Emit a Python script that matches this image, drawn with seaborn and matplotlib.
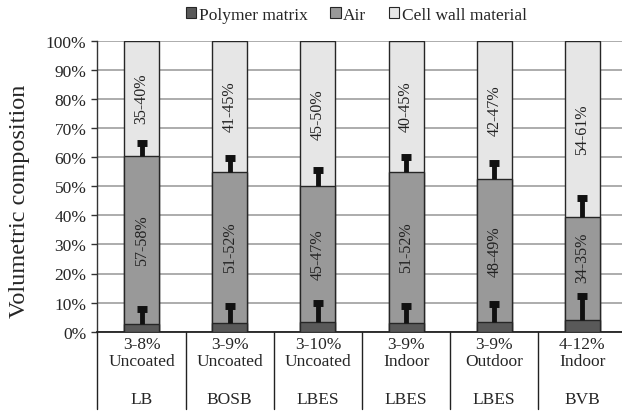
import matplotlib
matplotlib.use("Agg")
import matplotlib.pyplot as plt
import matplotlib.transforms as mtransforms
from matplotlib.patches import Patch
import seaborn as sns
import pandas as pd
import numpy as np

# ---- data ----
materials = ["LB", "BOSB", "LBES", "LBES", "LBES", "BVB"]
treatments = ["Uncoated", "Uncoated", "Uncoated", "Indoor", "Outdoor", "Indoor"]
polymer_range = ["3-8%", "3-9%", "3-10%", "3-9%", "3-9%", "4-12%"]
air_range = ["57-58%", "51-52%", "45-47%", "51-52%", "48-49%", "34-35%"]
cell_range = ["35-40%", "41-45%", "45-50%", "40-45%", "42-47%", "54-61%"]

polymer = [2.7, 3.1, 3.4, 3.1, 3.2, 3.9]
air = [57.8, 51.9, 46.6, 51.9, 49.3, 35.4]
polymer_err = [5.2, 5.9, 6.5, 5.9, 6.3, 8.2]
air_err = [4.3, 4.8, 5.4, 5.0, 5.4, 6.6]

c_poly = "#595959"
c_air = "#999999"
c_cell = "#e6e6e6"
edge = "#262626"

sns.set_style("white")
plt.rcParams["font.family"] = ["Liberation Serif", "DejaVu Serif"]

cats = [f"c{i}" for i in range(len(materials))]
poly_top = np.array(polymer)
air_top = poly_top + np.array(air)
df = pd.DataFrame({"cat": cats, "total": [100.0] * len(cats),
                   "air_top": air_top, "poly_top": poly_top})

fig = plt.figure(figsize=(6.22, 4.14), dpi=100)
ax = fig.add_axes([97.5 / 622, 1 - 332.7 / 414, 529 / 622, 291 / 414])

bw = 35 / 88
sns.barplot(data=df, x="cat", y="total", color=c_cell, saturation=1, width=bw,
            edgecolor=edge, linewidth=1.0, ax=ax, zorder=3)
sns.barplot(data=df, x="cat", y="air_top", color=c_air, saturation=1, width=bw,
            edgecolor=edge, linewidth=1.0, ax=ax, zorder=3)
sns.barplot(data=df, x="cat", y="poly_top", color=c_poly, saturation=1, width=bw,
            edgecolor=edge, linewidth=1.0, ax=ax, zorder=3)

xs = np.arange(len(cats))
for tops, errs in [(poly_top, np.array(polymer_err)), (air_top, np.array(air_err))]:
    ax.errorbar(xs, tops, yerr=[np.zeros(len(cats)), errs], fmt="none",
                ecolor="#111111", elinewidth=3.5, capsize=0, zorder=5)
    ax.plot(xs, tops + errs, linestyle="none", marker="_", markersize=7,
            markeredgewidth=5, color="#111111", zorder=5)

# in-bar labels
for i in range(len(cats)):
    ax.text(xs[i], (poly_top[i] + air_top[i]) / 2 + (4 if i == 5 else 0), air_range[i],
            rotation=90, ha="center", va="center", fontsize=11.5, color="#222222", zorder=6)
    ax.text(xs[i], (air_top[i] + 100) / 2, cell_range[i],
            rotation=90, ha="center", va="center", fontsize=11.5, color="#222222", zorder=6)

ax.set_xlim(-0.5, len(cats) - 0.5)
ax.set_ylim(0, 100)
ax.set_yticks(np.arange(0, 101, 10))
ax.set_yticklabels([f"{v}%" for v in range(0, 101, 10)], fontsize=12.5)
ax.yaxis.grid(True, color="#a6a6a6", linewidth=1.3, zorder=0)
ax.set_axisbelow(True)
ax.tick_params(axis="y", direction="out", length=4, width=1, left=True, color="#333333", pad=4)
ax.tick_params(axis="x", bottom=False, labelbottom=False)
ax.set_xlabel("")
ax.set_ylabel("Volumetric composition", fontsize=17.5)
ax.yaxis.set_label_coords(-0.1276, 0.4526)
for s in ["top", "right"]:
    ax.spines[s].set_visible(False)
ax.spines["left"].set_color("#333333")
ax.spines["bottom"].set_color("#222222")
ax.spines["left"].set_linewidth(1.0)
ax.spines["bottom"].set_linewidth(1.3)

# table below axis
trans = mtransforms.blended_transform_factory(ax.transData, ax.transAxes)
for b in np.arange(-0.5, len(cats), 1.0):
    ax.plot([b, b], [0, -0.266], transform=trans, color="#222222", lw=1.0, clip_on=False)
for i in range(len(cats)):
    ax.text(xs[i], -0.042, polymer_range[i], transform=trans, ha="center", va="center", fontsize=12.5)
    ax.text(xs[i], -0.100, treatments[i], transform=trans, ha="center", va="center", fontsize=12.5)
    ax.text(xs[i], -0.231, materials[i], transform=trans, ha="center", va="center", fontsize=12.5)

handles = [Patch(facecolor=c_poly, edgecolor=edge, linewidth=0.8, label="Polymer matrix"),
           Patch(facecolor=c_air, edgecolor=edge, linewidth=0.8, label="Air"),
           Patch(facecolor=c_cell, edgecolor=edge, linewidth=0.8, label="Cell wall material")]
fig.legend(handles=handles, loc="center", bbox_to_anchor=(0.573, 0.962), ncol=3, frameon=False,
           fontsize=12.5, handlelength=0.6, handleheight=0.6, handletextpad=0.15,
           columnspacing=1.3)

fig.savefig("out.png", dpi=100)
